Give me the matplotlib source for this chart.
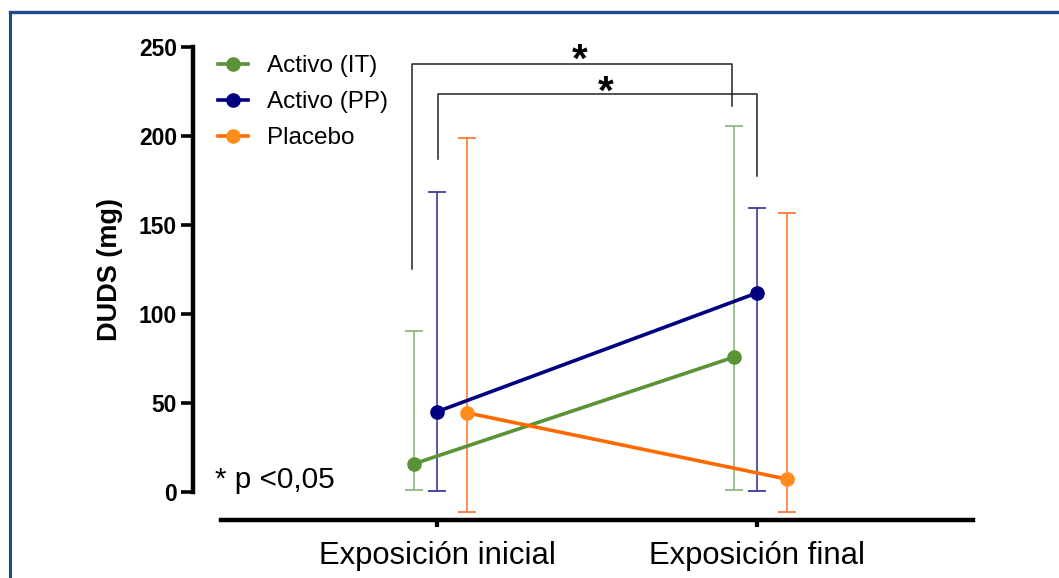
import matplotlib
matplotlib.use("Agg")
import matplotlib.pyplot as plt
from matplotlib.lines import Line2D

plt.rcParams["font.family"] = ["Liberation Sans", "DejaVu Sans"]

# Data: DUDS (mg) per group at each exposure, with lower/upper error limits
categories = ["Exposición inicial", "Exposición final"]
series = ["Activo (IT)", "Activo (PP)", "Placebo"]

it_mean = [15.6, 75.6]
it_upper = [90.4, 205.5]
it_lower = [0.8, 0.8]

pp_mean = [44.9, 111.7]
pp_upper = [168.4, 159.5]
pp_lower = [0.3, 0.3]

pl_mean = [44.3, 7.0]
pl_upper = [198.9, 156.7]
pl_lower = [-11.4, -11.4]

y_ticks = [0, 50, 100, 150, 200, 250]

# Significance brackets: (x_left, x_right, y_left_end, y_top, y_right_end)
brackets = [
    (-0.079, 0.921, 125.0, 240.5, 216.7),
    (0.002, 1.000, 186.9, 223.6, 177.5),
]
stars = [(0.447, 236.0), (0.528, 218.0)]

W, H = 1059, 578
fig = plt.figure(figsize=(W / 100, H / 100), dpi=100)
ax = fig.add_axes([193 / W, 58 / H, 780 / W, 473 / H])

offsets = [-0.072, 0.0, 0.093]
line_colors = ["#5a9236", "#000080", "#ff6a00"]
marker_colors = ["#5a9236", "#000080", "#ff8c1a"]
bar_colors = ["#93b67e", "#3b3ba0", "#ff7a30"]
means = [it_mean, pp_mean, pl_mean]
uppers = [it_upper, pp_upper, pl_upper]
lowers = [it_lower, pp_lower, pl_lower]

xpos = list(range(len(categories)))
handles = []
for i, name in enumerate(series):
    xs = [x + offsets[i] for x in xpos]
    m = means[i]
    yerr = [[m[k] - lowers[i][k] for k in range(len(m))],
            [uppers[i][k] - m[k] for k in range(len(m))]]
    ax.errorbar(xs, m, yerr=yerr, fmt="none", ecolor=bar_colors[i],
                elinewidth=1.2, capsize=6.5, capthick=1.3, zorder=2,
                clip_on=False)
    ax.plot(xs, m, color=line_colors[i], lw=2.6, zorder=3, clip_on=False)
    ax.plot(xs, m, "o", color=marker_colors[i], ms=9.5, zorder=4,
            clip_on=False)
    handles.append(Line2D([], [], color=line_colors[i], lw=2.6, marker="o",
                          ms=9.5, markerfacecolor=marker_colors[i],
                          markeredgecolor=marker_colors[i]))

for (xl, xr, yl, yt, yr) in brackets:
    ax.plot([xl, xl, xr, xr], [yl, yt, yt, yr], color="#222222", lw=1.1,
            zorder=3, clip_on=False)
for (sx, sy) in stars:
    ax.text(sx, sy, "*", ha="center", va="baseline", fontsize=29,
            fontweight="bold", color="black", clip_on=False)

ax.text(-0.693, 2.0, "* p <0,05", ha="left", va="baseline", fontsize=21.4,
        color="black")

ax.set_xlim(-0.7625, 1.675)
ax.set_ylim(-16.0, 250.0)

for s in ["top", "right"]:
    ax.spines[s].set_visible(False)
ax.spines["left"].set_bounds(0, 250)
ax.spines["bottom"].set_bounds(-0.675, 1.675)
ax.spines["left"].set_linewidth(3.2)
ax.spines["bottom"].set_linewidth(3.2)

ax.set_yticks(y_ticks)
ax.set_yticklabels([str(t) for t in y_ticks], fontsize=16.5, fontweight="bold")
ax.tick_params(axis="y", length=8.6, width=2.6, pad=3)
ax.set_xticks(xpos)
ax.set_xticklabels(categories, fontsize=22.3)
ax.tick_params(axis="x", length=5, width=3, pad=10)

ax.set_ylabel("DUDS (mg)", fontsize=19.5, fontweight="bold")
ax.yaxis.set_label_coords(-0.0897, 0.5296)

ax.legend(handles, series, loc="upper left",
          bbox_to_anchor=(218 / W, 1 - 55 / H), bbox_transform=fig.transFigure,
          frameon=False, fontsize=17.5, handlelength=1.25, handletextpad=0.75,
          borderpad=0, borderaxespad=0, labelspacing=0.58)

# Outer frame lines
frame_color = "#1f4a8a"
fig.add_artist(Line2D([9.7 / W, 1.0], [1 - 11.7 / H, 1 - 11.7 / H],
                      transform=fig.transFigure, color=frame_color, lw=2.4))
fig.add_artist(Line2D([9.7 / W, 9.7 / W], [0.0, 1 - 11.7 / H],
                      transform=fig.transFigure, color=frame_color, lw=2.2))

fig.savefig("out.png", dpi=100)
